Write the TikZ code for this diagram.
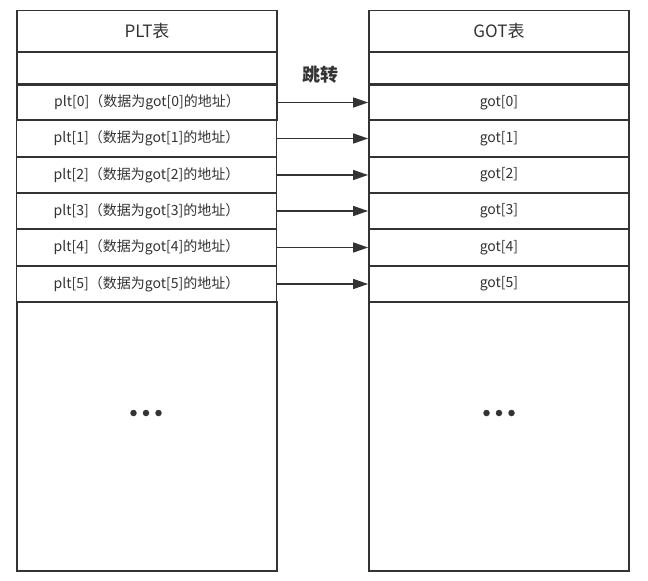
\documentclass[tikz,border=0pt]{standalone}
\usepackage{fontspec}
\setmainfont{Noto Sans CJK SC}
\usetikzlibrary{arrows.meta}
\definecolor{ink}{HTML}{333333}
\tikzset{
  cell/.style={draw=ink, line width=1.8pt, minimum width=260pt, inner sep=0pt, text=ink, font=\fontsize{14}{16}\selectfont, fill=white},
  head/.style={cell, font=\fontsize{17}{20}\selectfont},
  jump/.style={draw=ink, line width=1.5pt, -{Triangle[length=15pt,width=10pt]}},
  dot/.style={fill=ink, draw=none, circle, minimum size=6.5pt, inner sep=0pt}
}
\begin{document}
\begin{tikzpicture}[x=1pt,y=-1pt]
\useasboundingbox (0,0) rectangle (648,581);
% left column
\node[head, minimum height=41.5pt] (ph) at (147,31.25) {PLT表};
\node[cell, minimum height=32pt] (pe) at (147,68) {};
\node[cell, minimum height=35pt] (p0) at (147,102.5) {plt[0]（数据为got[0]的地址）};
\node[cell, minimum height=36.5pt] (p1) at (146.5,138.5) {plt[1]（数据为got[1]的地址）};
\node[cell, minimum height=36pt] (p2) at (146.5,175) {plt[2]（数据为got[2]的地址）};
\node[cell, minimum height=36pt] (p3) at (146.5,211) {plt[3]（数据为got[3]的地址）};
\node[cell, minimum height=36.5pt] (p4) at (146.5,247.5) {plt[4]（数据为got[4]的地址）};
\node[cell, minimum height=36pt] (p5) at (146.5,284) {plt[5]（数据为got[5]的地址）};
\node[cell, minimum height=269pt] (pb) at (147,436.5) {};
% right column
\node[head, minimum height=41.5pt] (gh) at (499,31.25) {GOT表};
\node[cell, minimum height=32pt] (ge) at (499,68) {};
\node[cell, minimum height=35pt] (g0) at (499,102.5) {got[0]};
\node[cell, minimum height=36.5pt] (g1) at (499,138.5) {got[1]};
\node[cell, minimum height=36pt] (g2) at (499,175) {got[2]};
\node[cell, minimum height=36pt] (g3) at (499,211) {got[3]};
\node[cell, minimum height=36.5pt] (g4) at (499,247.5) {got[4]};
\node[cell, minimum height=36pt] (g5) at (499,284) {got[5]};
\node[cell, minimum height=269pt] (gb) at (499,436.5) {};
% ellipses
\node[dot] (pd1) at (133.5,413) {};
\node[dot] (pd2) at (146,413) {};
\node[dot] (pd3) at (158.5,413) {};
\node[dot] (gd1) at (486.5,413) {};
\node[dot] (gd2) at (499,413) {};
\node[dot] (gd3) at (511.5,413) {};
% label
\node[text=ink, font=\fontsize{18}{20}\selectfont\bfseries] (lbl) at (320,75) {跳转};
% arrows
\draw[jump] (p0.east) -- (g0.west);
\draw[jump] (p1.east) -- (g1.west);
\draw[jump] (p2.east) -- (g2.west);
\draw[jump] (p3.east) -- (g3.west);
\draw[jump] (p4.east) -- (g4.west);
\draw[jump] (p5.east) -- (g5.west);
\end{tikzpicture}
\end{document}
